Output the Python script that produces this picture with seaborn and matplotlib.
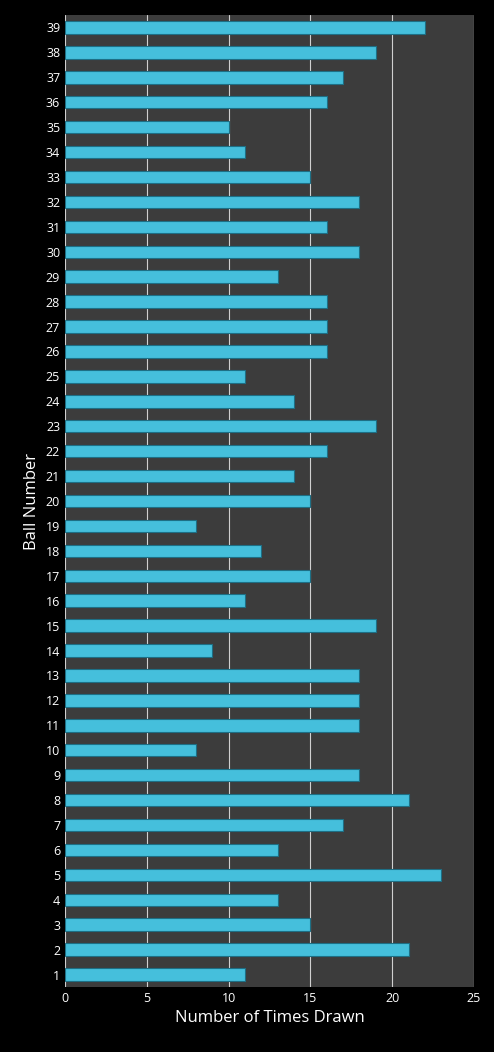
import matplotlib
matplotlib.use("Agg")
import matplotlib.pyplot as plt
import seaborn as sns
import pandas as pd

balls = list(range(1, 40))
times_drawn = [11, 21, 15, 13, 23, 13, 17, 21, 18, 8,
               18, 18, 18, 9, 19, 11, 15, 12, 8, 15,
               14, 16, 19, 14, 11, 16, 16, 16, 13, 18,
               16, 18, 15, 11, 10, 16, 17, 19, 22]

sns.set_theme(style="dark")
plt.rcParams["font.family"] = ["Open Sans", "DejaVu Sans"]

df = pd.DataFrame({"ball": [str(b) for b in balls], "times": times_drawn})
df = df.iloc[::-1]

fig = plt.figure(figsize=(4.94, 10.52), dpi=100, facecolor="black")
ax = fig.add_axes([65 / 494, 65 / 1052, 409 / 494, 972 / 1052])
ax.set_facecolor("#3c3c3c")
sns.barplot(data=df, x="times", y="ball", orient="h", color="#45bfdc",
            saturation=1, width=0.5, edgecolor="#1d6f85", linewidth=0.8, ax=ax)
ax.set_xlim(0, 25)
ax.set_xticks([0, 5, 10, 15, 20, 25])
ax.xaxis.grid(True, color="#d0d0d0", linewidth=0.8)
ax.yaxis.grid(False)
ax.set_axisbelow(True)
for s in ax.spines.values():
    s.set_visible(False)
ax.tick_params(colors="white", labelsize=9, length=0)
ax.set_xlabel("Number of Times Drawn", color="white", fontsize=12)
ax.set_ylabel("Ball Number", color="white", fontsize=12)
fig.savefig("out.png", dpi=100, facecolor="black")
